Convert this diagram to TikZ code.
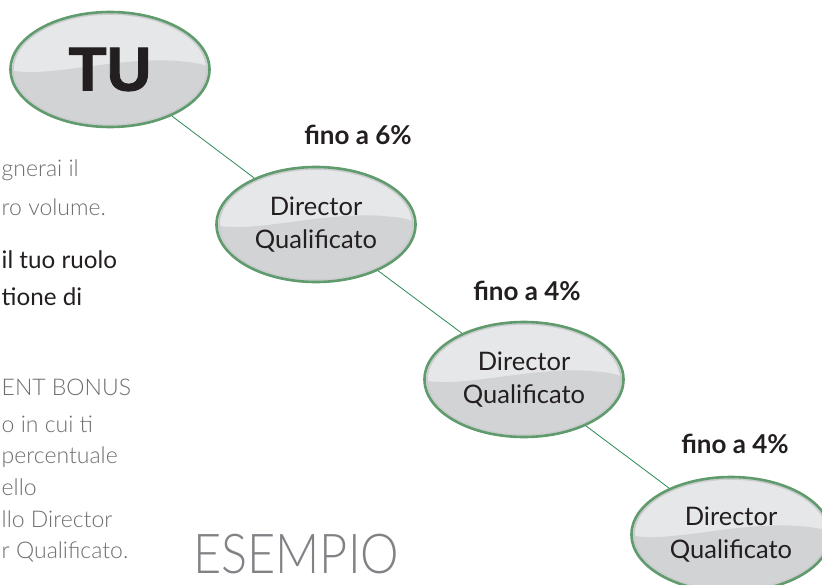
\documentclass[tikz,border=0pt]{standalone}
\usepackage{fontspec}
\setmainfont{Lato}
\IfFontExistsTF{Lato Light}{\newfontfamily\lightfont{Lato Light}}{\newfontfamily\lightfont{Lato}}
\newfontfamily\tufont{Liberation Sans}[BoldFeatures={FakeBold=1.5}]
\usetikzlibrary{shapes.geometric}
\definecolor{bordergreen}{HTML}{5F9B6C}
\definecolor{conngreen}{HTML}{2E8A58}
\definecolor{toplight}{HTML}{E6E7E8}
\definecolor{botgray}{HTML}{D1D3D4}
\definecolor{rimgray}{HTML}{C9CBCD}
\definecolor{darktext}{HTML}{231F20}
\definecolor{graytext}{HTML}{6D6E71}
\definecolor{esgray}{HTML}{808285}
\tikzset{
  bubble/.style={ellipse, draw=bordergreen, line width=2.6bp,
    minimum width=199bp, minimum height=115bp, inner sep=0pt,
    fill=toplight, text=darktext, align=center,
    font=\fontsize{25.5bp}{33bp}\selectfont,
    path picture={
      \coordinate (pc) at (path picture bounding box.center);
      \fill[botgray] ([shift={(-106,-1)}]pc) .. controls ([shift={(-70,12)}]pc) and ([shift={(10,-15)}]pc) .. ([shift={(72,-8)}]pc)
        .. controls ([shift={(88,-7)}]pc) and ([shift={(98,-4)}]pc) .. ([shift={(106,1)}]pc)
        -- ([shift={(106,70)}]pc) -- ([shift={(-106,70)}]pc) -- cycle;
      \draw[rimgray, line width=1.6bp] (pc) ellipse [x radius=97, y radius=55.5];
    }},
  conn/.style={draw=conngreen, line width=0.8bp},
  pct/.style={anchor=base, text=darktext, font=\bfseries\fontsize{26bp}{26bp}\selectfont},
  grayline/.style={anchor=base west, inner sep=0pt, text=graytext, font=\lightfont\fontsize{23bp}{23bp}\selectfont},
  darkline/.style={anchor=base west, inner sep=0pt, text=darktext, font=\fontsize{24.2bp}{24.2bp}\selectfont}
}
\begin{document}
\begin{tikzpicture}[x=1bp,y=-1bp]
\useasboundingbox (0,0) rectangle (822,585);
\clip (0,0) rectangle (822,585);
\fill[white] (0,0) rectangle (822,585);
% bubbles
\node[bubble, font=\tufont\bfseries\fontsize{62bp}{62bp}\selectfont] (tu) at (110,69.5) {TU};
\node[bubble] (d1) at (316,224.5) {Director\\Qualificato};
\node[bubble] (d2) at (524,379.5) {Director\\Qualificato};
\node[bubble] (d3) at (731,534.5) {Director\\Qualificato};
% connectors
\draw[conn] (tu) -- (d1);
\draw[conn] (d1) -- (d2);
\draw[conn] (d2) -- (d3);
% percentages
\node[pct] (p1) at (358,145) {fino a 6\%};
\node[pct] (p2) at (527,300) {fino a 4\%};
\node[pct] (p3) at (735,453) {fino a 4\%};
% left text
\node[grayline] (l1) at (1.5,177) {gnerai il};
\node[grayline] (l2) at (1.5,216) {ro volume.};
\node[darkline] (l3) at (1.5,268) {il tuo ruolo};
\node[darkline] (l4) at (1.5,305) {tione di};
\node[grayline] (l5) at (1.5,395) {ENT BONUS};
\node[grayline] (l6) at (1.5,432) {o in cui ti};
\node[grayline] (l7) at (1.5,463) {percentuale};
\node[grayline] (l8) at (1.5,495) {ello};
\node[grayline] (l9) at (1.5,527) {llo Director};
\node[grayline] (l10) at (1.5,558) {r Qualificato.};
% title
\node[anchor=base west, inner sep=0pt, text=esgray, font=\lightfont\fontsize{55bp}{55bp}\selectfont] (es) at (193,573) {\scalebox{0.885}[1]{ESEMPIO}};
\end{tikzpicture}
\end{document}
